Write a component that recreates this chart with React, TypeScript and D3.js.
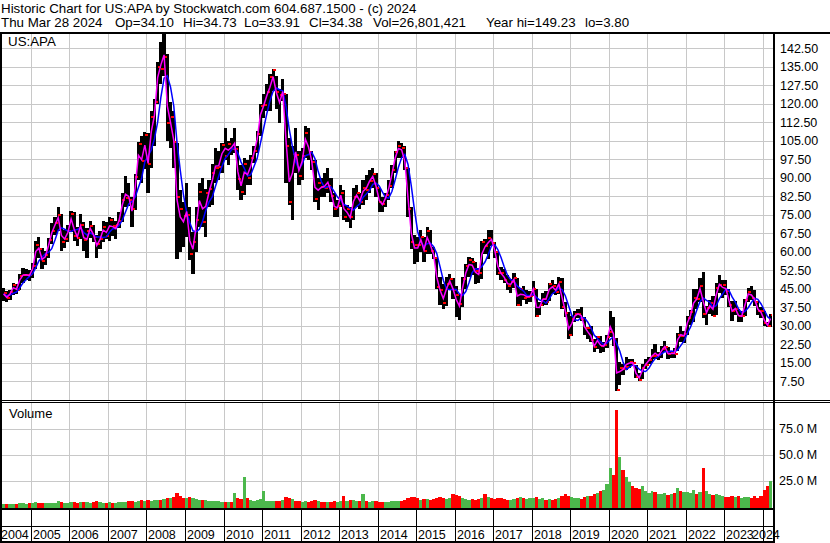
import React from 'react';
import * as d3 from 'd3';

// monthly bars, Apr 2004 .. Mar 2024
const highs = [
  45.5, 44.0, 44.5, 47.5, 47.0, 51.0, 53.5, 53.0, 52.5,
  55.5, 64.5, 66.0, 61.5, 60.5, 65.5, 71.5, 74.0, 78.0, 75.5, 69.0, 71.0,
  76.5, 76.0, 70.0, 75.5, 72.0, 69.5, 72.5, 71.0, 67.0, 68.5, 72.5, 72.0,
  74.0, 73.5, 72.5, 76.0, 84.0, 90.5, 88.0, 82.0, 91.5, 104.5, 107.0, 108.5,
  108.0, 117.0, 122.0, 137.0, 145.0, 149.2, 140.0, 120.5, 117.0, 104.0, 85.0, 80.0,
  88.0, 78.0, 68.0, 78.0, 88.0, 90.0, 85.5, 89.0, 95.5, 102.0, 101.0, 104.0,
  110.0, 105.0, 106.0, 110.0, 103.0, 95.0, 98.0, 97.0, 99.0, 103.0, 109.0, 120.0,
  124.0, 128.0, 132.0, 134.2, 131.0, 126.0, 130.0, 124.0, 106.0, 103.0, 110.0, 101.0,
  102.0, 111.0, 110.0, 101.0, 97.0, 90.0, 90.0, 92.0, 94.0, 90.0, 84.0, 81.0,
  87.0, 85.0, 79.0, 78.0, 86.0, 87.0, 84.0, 89.0, 91.0, 93.0, 94.0, 92.0,
  86.0, 82.0, 84.0, 89.0, 95.0, 101.0, 104.7, 104.0, 103.0, 94.0, 78.0, 67.0,
  66.0, 69.0, 66.0, 70.0, 69.0, 62.0, 58.0, 50.0, 47.0, 50.0, 51.0, 49.5,
  46.0, 43.0, 50.0, 55.0, 58.0, 57.5, 56.0, 53.5, 64.5, 65.0, 69.0, 69.0,
  64.0, 60.0, 54.0, 53.0, 50.5, 49.0, 51.5, 49.5, 45.5, 46.0, 44.5, 44.0,
  48.0, 45.0, 39.5, 43.5, 44.0, 47.5, 48.5, 47.0, 50.0, 49.5, 39.5, 35.5,
  34.0, 36.0, 37.0, 37.5, 33.5, 29.5, 30.0, 24.5, 26.0, 26.0, 23.5, 26.5,
  36.0, 33.5, 25.0, 15.5, 14.5, 17.5, 16.5, 16.5, 14.0, 11.0, 14.5, 16.5,
  17.5, 20.5, 22.5, 19.5, 22.0, 24.0, 21.5, 20.0, 21.0, 27.0, 30.0, 28.0,
  34.0, 36.5, 45.0, 45.0, 49.5, 51.9, 38.0, 40.5, 42.0, 47.5, 50.5, 48.5,
  48.5, 45.0, 40.0, 40.0, 37.0, 36.0, 41.0, 45.5, 46.0, 44.5, 40.0, 37.5,
  36.0, 31.5, 34.8,
];

const lows = [
  40.0, 39.5, 40.5, 42.5, 43.0, 44.5, 47.5, 48.5, 48.0,
  49.5, 53.0, 57.5, 53.0, 54.5, 57.5, 63.0, 67.0, 68.5, 60.5, 61.5, 64.0,
  68.0, 64.5, 62.5, 65.0, 60.5, 57.5, 65.5, 64.0, 57.5, 61.0, 64.0, 65.0,
  64.5, 66.5, 65.0, 69.5, 72.0, 78.0, 78.5, 70.0, 77.0, 89.0, 88.0, 93.5,
  84.0, 94.0, 103.0, 120.0, 128.0, 131.0, 105.0, 102.0, 94.0, 57.0, 60.0, 62.0,
  66.0, 56.5, 51.0, 60.0, 70.0, 70.0, 66.0, 78.0, 79.0, 88.0, 89.0, 92.0,
  97.0, 95.0, 99.0, 100.0, 85.0, 81.0, 83.0, 87.0, 87.0, 96.0, 100.0, 107.0,
  114.0, 117.0, 117.0, 125.0, 118.0, 112.0, 121.0, 88.0, 79.0, 73.0, 92.0, 87.0,
  89.0, 98.0, 97.0, 93.0, 80.0, 77.0, 82.0, 82.0, 84.0, 80.0, 74.0, 74.0,
  78.0, 73.0, 72.0, 69.5, 73.0, 78.0, 77.5, 79.0, 81.0, 84.0, 86.0, 82.0,
  76.0, 76.0, 78.0, 81.0, 86.0, 92.0, 98.0, 98.0, 93.0, 74.0, 61.0, 55.0,
  56.0, 60.0, 56.0, 59.0, 59.0, 57.0, 45.0, 38.5, 37.0, 38.0, 44.5, 41.0,
  33.5, 32.2, 37.5, 45.0, 50.0, 50.5, 47.0, 47.5, 49.0, 59.0, 57.0, 62.5,
  57.5, 50.5, 48.5, 47.5, 44.5, 43.5, 45.5, 38.0, 38.0, 40.5, 39.0, 39.5,
  42.0, 33.5, 34.5, 38.0, 38.5, 40.0, 43.0, 42.5, 43.0, 37.0, 33.5, 24.6,
  26.0, 31.5, 33.0, 32.0, 26.5, 24.5, 23.5, 19.5, 20.5, 19.0, 19.5, 21.0,
  25.5, 22.0, 3.8, 6.0, 10.0, 12.0, 13.0, 14.0, 9.0, 7.5, 8.5, 12.5,
  14.5, 15.0, 16.5, 16.0, 17.0, 19.5, 16.5, 17.0, 17.0, 20.0, 23.5, 23.0,
  26.5, 30.5, 31.5, 37.0, 39.5, 33.0, 30.5, 35.0, 34.0, 34.5, 43.5, 41.5,
  42.5, 37.5, 32.0, 34.5, 31.5, 31.5, 34.0, 39.5, 40.5, 38.0, 34.5, 33.0,
  30.0, 29.5, 29.5,
];

const closes = [
  43.4, 41.2, 43.6, 46.5, 44.7, 50.1, 50.7, 50.7, 50.6,
  54.4, 62.8, 61.2, 56.3, 58.9, 64.6, 68.4, 71.6, 75.0, 63.9, 65.2, 68.5,
  75.5, 66.6, 65.5, 71.0, 64.6, 68.3, 70.5, 65.9, 63.2, 65.3, 70.0, 66.5,
  72.9, 70.6, 70.7, 72.5, 80.8, 81.6, 80.8, 77.4, 90.1, 103.8, 96.9, 107.5,
  95.4, 114.7, 120.8, 134.7, 134.1, 139.0, 112.2, 114.4, 104.3, 82.3, 77.3, 74.5,
  75.0, 59.0, 64.1, 72.9, 84.2, 72.2, 83.9, 85.6, 91.8, 94.1, 94.4, 103.2,
  98.8, 103.6, 101.5, 101.8, 89.4, 84.2, 95.6, 89.8, 97.8, 101.0, 107.8, 119.2,
  119.4, 124.6, 130.9, 133.5, 124.6, 123.4, 123.7, 102.9, 80.2, 99.6, 99.4, 90.6,
  98.9, 108.0, 100.4, 96.5, 81.3, 87.9, 86.1, 85.8, 86.5, 82.7, 77.2, 78.5,
  83.7, 74.3, 77.2, 73.9, 82.1, 83.8, 80.3, 85.7, 85.1, 88.8, 91.5, 85.9,
  80.3, 79.3, 82.9, 86.8, 93.0, 100.6, 102.7, 101.9, 93.9, 77.2, 64.1, 62.7,
  62.6, 65.8, 60.3, 68.5, 60.3, 57.6, 45.9, 44.7, 39.2, 47.1, 49.0, 44.5,
  42.5, 39.0, 48.8, 54.4, 56.5, 55.7, 52.3, 51.5, 63.9, 62.4, 65.4, 63.5,
  59.8, 51.5, 51.4, 48.5, 46.3, 47.9, 49.5, 38.6, 44.8, 41.4, 41.8, 42.2,
  44.9, 34.2, 38.5, 40.9, 39.8, 46.8, 46.0, 43.9, 47.7, 37.8, 35.1, 26.3,
  32.8, 34.7, 34.7, 32.9, 29.0, 29.0, 24.3, 21.5, 25.6, 21.7, 22.1, 25.6,
  27.4, 24.7, 4.2, 13.1, 12.6, 13.5, 15.4, 14.8, 9.5, 8.3, 13.1, 14.2,
  16.0, 18.0, 17.9, 18.3, 20.6, 21.6, 18.5, 19.5, 18.6, 26.3, 25.8, 26.9,
  33.4, 35.7, 41.3, 40.9, 46.2, 34.9, 37.4, 39.1, 34.2, 45.5, 46.5, 46.7,
  44.3, 38.4, 36.0, 36.8, 34.1, 34.2, 40.4, 43.8, 41.1, 39.7, 36.0, 35.9,
  31.0, 29.9, 34.4,
];

// millions of shares
const volumes = [
  2, 2.5, 2, 2.5, 2, 3, 3, 2.5, 3,
  3, 4, 3.5, 3, 3, 3.5, 3, 3.5, 5, 4, 3.5, 3,
  4, 4, 3.5, 4, 4.5, 4, 3.5, 4, 5, 4, 3.5, 3.5,
  4, 3.5, 3.5, 4, 4.5, 4, 5, 5.5, 4.5, 5, 6, 5,
  6, 5.5, 6, 6.5, 6, 7, 8, 8, 9, 13, 10, 8,
  8, 9, 8, 7, 6.5, 6, 6, 5.5, 5, 5, 5, 4.5,
  4.5, 4, 4.5, 13, 8, 7, 28, 8, 6, 5, 6, 7,
  15, 5, 5, 5, 5, 5, 6, 9, 8, 7, 5, 5,
  4.5, 5, 4.5, 5, 6, 5, 4, 4, 4, 4.5, 5, 4.5,
  5, 10, 5, 6, 6, 5, 5, 12, 5, 4, 5, 5,
  4, 4, 4, 4.5, 5, 5, 5, 5.5, 6, 8, 9, 9,
  8, 6, 7, 7, 6, 7, 8, 9, 8, 7, 8, 12,
  11, 10, 8, 7, 6, 7, 6, 7, 8, 12, 9, 8,
  7, 8, 8, 7, 6, 6, 7, 8, 9, 8, 7, 8,
  8, 9, 7, 8, 6, 7, 6, 7, 8, 10, 12, 10,
  9, 8, 8, 7, 9, 10, 10, 12, 13, 15, 16, 22,
  37, 30, 93, 48, 35, 28, 24, 20, 18, 17, 20, 15,
  13, 15, 14, 12, 12, 13, 11, 12, 13, 18, 15, 14,
  14, 13, 16, 12, 14, 37, 15, 12, 11, 12, 11, 10,
  9, 9, 10, 9, 10, 8, 9, 9, 8, 10, 8, 10,
  16, 20, 25,
];

const priceTicks = [7.5, 15, 22.5, 30, 37.5, 45, 52.5, 60, 67.5, 75, 82.5, 90, 97.5, 105, 112.5, 120, 127.5, 135, 142.5];
const volumeTicks = [25, 50, 75];
const yearLabels = ['2004', '2005', '2006', '2007', '2008', '2009', '2010', '2011', '2012', '2013',
  '2014', '2015', '2016', '2017', '2018', '2019', '2020', '2021', '2022', '2023', '2024'];

const title = 'Historic Chart for US:APA by Stockwatch.com 604.687.1500 - (c) 2024';
const quoteParts = [
  { text: 'Thu Mar 28 2024', x: 1 },
  { text: 'Op=34.10', x: 115 },
  { text: 'Hi=34.73', x: 183 },
  { text: 'Lo=33.91', x: 244 },
  { text: 'Cl=34.38', x: 309 },
  { text: 'Vol=26,801,421', x: 373 },
  { text: 'Year hi=149.23', x: 486 },
  { text: 'lo=3.80', x: 585 },
];

const FONT = "'Liberation Sans', Arial, sans-serif";
const GRID = '#c8c8c8';

export default function App() {
  const start = new Date(2004, 3, 1);
  const end = new Date(2024, 2, 29);
  const months = d3.timeMonth.range(start, new Date(2024, 3, 1));

  const plotL = 2, plotR = 773;
  const x = d3.scaleTime().domain([start, end]).range([2, 772]);
  const yP = d3.scaleLinear().domain([0, 148.6]).range([400, 33]);
  const yV = d3.scaleLinear().domain([0, 100]).range([506.5, 402.5]);

  const x0 = (i: number) => x(months[i]);
  const x1 = (i: number) => (i + 1 < months.length ? x(months[i + 1]) : x(end));

  // moving averages from the monthly bars
  const typical = closes.map((c, i) => (highs[i] + lows[i] + c) / 3);
  const slow = typical.map((_, i) => d3.mean(typical.slice(Math.max(0, i - 3), i + 1)) as number);

  const mid = (i: number) => (x0(i) + x1(i)) / 2;
  const magentaPath = d3.line<number>().x((_, i) => mid(i)).y(d => yP(d))(typical) || '';
  const bluePath = d3.line<number>().x((_, i) => mid(i)).y(d => yP(d))(slow) || '';

  const yearSeps = yearLabels.slice(1).map(y => Math.round(x(new Date(+y, 0, 1))));
  const labelW = 28;

  return (
    <svg width={830} height={543} style={{ position: 'absolute', left: 0, top: 0, background: '#fff' }}
      fontFamily={FONT}>
      <rect width={830} height={543} fill="#fff" />

      {/* header */}
      <text x={1} y={13} fontSize={13.33} fill="#000">{title}</text>
      {quoteParts.map(p => (
        <text key={p.text} x={p.x} y={27} fontSize={13.33} fill="#000">{p.text}</text>
      ))}

      {/* grid */}
      <g shapeRendering="crispEdges" stroke={GRID} strokeWidth={1}>
        {priceTicks.map(t => (
          <line key={'hp' + t} x1={plotL} x2={plotR} y1={Math.round(yP(t)) + 0.5} y2={Math.round(yP(t)) + 0.5} />
        ))}
        {yearSeps.map(s => (
          <line key={'vp' + s} x1={s + 0.5} x2={s + 0.5} y1={34} y2={400} />
        ))}
        {volumeTicks.map(t => (
          <line key={'hv' + t} x1={plotL} x2={plotR} y1={Math.round(yV(t)) + 0.5} y2={Math.round(yV(t)) + 0.5} />
        ))}
        {yearSeps.map(s => (
          <line key={'vv' + s} x1={s + 0.5} x2={s + 0.5} y1={403} y2={508} />
        ))}
      </g>

      {/* price bars */}
      <g shapeRendering="crispEdges">
        {closes.map((c, i) => (
          <rect key={'b' + i} x={x0(i)} width={x1(i) - x0(i)} y={yP(highs[i])}
            height={yP(lows[i]) - yP(highs[i])} fill="#000" />
        ))}
        {closes.map((c, i) => (
          <rect key={'c' + i} x={x1(i) - 1.5} width={1.5} y={yP(c) - 1} height={2} fill="#ff0000" />
        ))}
        {closes.map((c, i) => i > 0 ? (
          <rect key={'o' + i} x={x0(i)} width={1.5} y={yP(closes[i - 1]) - 1} height={2} fill="#ff0000" />
        ) : null)}
      </g>

      <path d={bluePath} fill="none" stroke="#0000ff" strokeWidth={1.5} />
      <path d={magentaPath} fill="none" stroke="#ff00ff" strokeWidth={1.5} />

      {/* volume bars */}
      <g shapeRendering="crispEdges">
        {volumes.map((v, i) => (
          <rect key={'v' + i} x={x0(i)} width={x1(i) - x0(i)} y={yV(v)} height={508 - yV(v)}
            fill={i > 0 && closes[i] < closes[i - 1] ? '#ff0000' : '#4cb84c'} />
        ))}
      </g>

      {/* panel labels */}
      <text x={8} y={46} fontSize={13.33} fill="#000">US:APA</text>
      <text x={9} y={417.5} fontSize={13} fill="#000">Volume</text>

      {/* right axis labels */}
      {priceTicks.map(t => (
        <text key={'pl' + t} x={780} y={yP(t) + 4.5} fontSize={12.5} fill="#000">{t.toFixed(2)}</text>
      ))}
      {volumeTicks.map(t => (
        <text key={'vl' + t} x={779} y={yV(t) + 4.5} fontSize={12.5} fill="#000">{t.toFixed(1) + ' M'}</text>
      ))}

      {/* frame */}
      <g shapeRendering="crispEdges" fill="#000">
        <rect x={0} y={32} width={830} height={2} />
        <rect x={0} y={32} width={2} height={511} />
        <rect x={773} y={32} width={2} height={511} />
        <rect x={0} y={400} width={830} height={1} />
        <rect x={0} y={402} width={830} height={1} />
        <rect x={0} y={508} width={775} height={2} />
        <rect x={0} y={526} width={775} height={1} />
        <rect x={0} y={541} width={775} height={2} />
      </g>
      <g shapeRendering="crispEdges" stroke="#000" strokeWidth={1}>
        {yearSeps.map(s => (
          <line key={'sep' + s} x1={s + 0.5} x2={s + 0.5} y1={510} y2={541} />
        ))}
      </g>

      {/* year labels */}
      {yearLabels.map((y, i) => {
        const lx = i === 0 ? 1 : Math.min(yearSeps[i - 1] + 2, 780 - labelW);
        return <text key={'yl' + y} x={lx} y={539} fontSize={12.5} fill="#000">{y}</text>;
      })}
    </svg>
  );
}
